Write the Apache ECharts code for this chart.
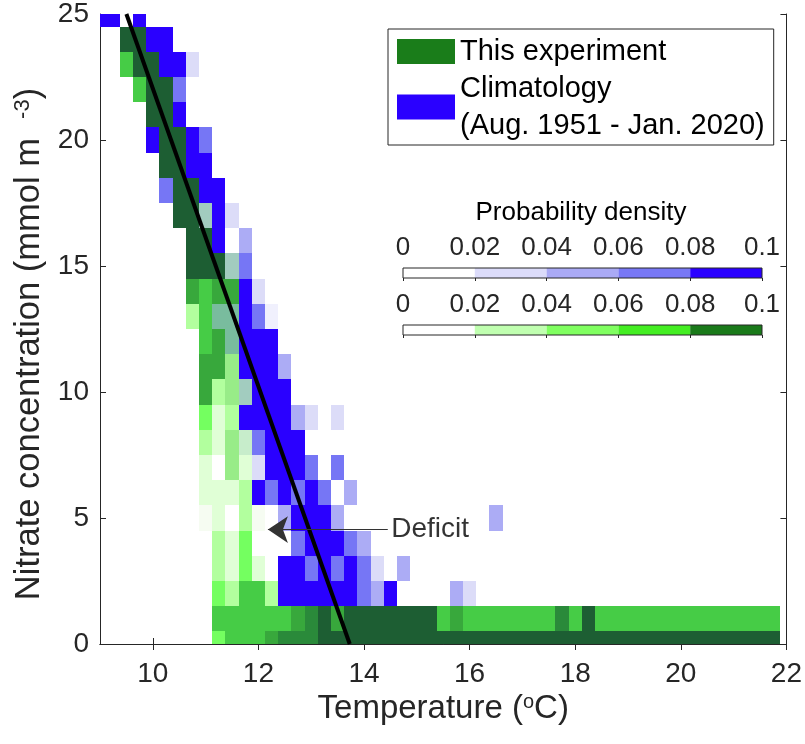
<!DOCTYPE html>
<html><head><meta charset="utf-8">
<script src="https://cdn.jsdelivr.net/npm/echarts@6/dist/echarts.min.js"></script>
<style>html,body{margin:0;padding:0;background:#fff}#c{width:805px;height:744px}</style>
</head><body><div id="c"></div>
<script>
const FONT = "'Liberation Sans', Arial, Helvetica, sans-serif";
const INK = '#262626';

// histogram bin size (temperature degC, nitrate mmol m-3)
const BIN_W = 0.25, BIN_H = 1;

// axis ticks
const xTicks = [10, 12, 14, 16, 18, 20, 22];
const yTicks = [0, 5, 10, 15, 20, 25];
const cbTicks = [0, 0.02, 0.04, 0.06, 0.08, 0.1];

// This experiment: [temperature, nitrate, probability density]
const greenCells = [
  [9.5,24,0.09],[9.75,24,0.09],
  [9.5,23,0.055],[9.75,23,0.09],[10,23,0.09],
  [9.75,22,0.055],[10,22,0.09],[10.25,22,0.09],
  [10,21,0.09],[10.25,21,0.09],
  [10.25,20,0.09],[10.5,20,0.09],
  [10.25,19,0.09],[10.5,19,0.09],
  [10.5,18,0.09],[10.75,18,0.09],
  [10.5,17,0.09],[10.75,17,0.09],[11,17,0.035],
  [10.75,16,0.09],[11,16,0.09],
  [10.75,15,0.09],[11,15,0.09],[11.25,15,0.09],[11.5,15,0.035],
  [10.75,14,0.065],[11,14,0.055],[11.25,14,0.065],[11.5,14,0.065],
  [10.75,13,0.025],[11,13,0.055],[11.25,13,0.055],[11.5,13,0.055],
  [11,12,0.055],[11.25,12,0.065],[11.5,12,0.055],
  [11,11,0.065],[11.25,11,0.065],[11.5,11,0.035],
  [11,10,0.065],[11.25,10,0.025],[11.5,10,0.035],[11.75,10,0.035],
  [11,9,0.045],[11.25,9,0.015],[11.5,9,0.025],
  [11,8,0.025],[11.25,8,0.015],[11.5,8,0.035],[11.75,8,0.025],
  [11,7,0.015],[11.5,7,0.035],[11.75,7,0.015],
  [11,6,0.015],[11.25,6,0.015],[11.5,6,0.015],[11.75,6,0.025],
  [11,5,0.005],[11.25,5,0.015],[11.75,5,0.025],[12,5,0.005],
  [11.25,4,0.025],[11.5,4,0.015],[11.75,4,0.045],
  [11.25,3,0.025],[11.5,3,0.015],[11.75,3,0.045],[12,3,0.015],
  [11.25,2,0.045],[11.5,2,0.025],[11.75,2,0.055],[12,2,0.055],[12.25,2,0.025],
  [11.25,1,0.055],[11.5,1,0.055],[11.75,1,0.055],[12,1,0.055],[12.25,1,0.055],[12.5,1,0.055],
  [12.75,1,0.065],[13,1,0.075],[13.25,1,0.09],[13.5,1,0.065],
  [13.75,1,0.09],[14,1,0.09],[14.25,1,0.09],[14.5,1,0.09],[14.75,1,0.09],[15,1,0.09],[15.25,1,0.09],
  [15.5,1,0.055],[15.75,1,0.065],
  [16,1,0.055],[16.25,1,0.055],[16.5,1,0.055],[16.75,1,0.055],[17,1,0.055],[17.25,1,0.055],[17.5,1,0.055],
  [17.75,1,0.075],[18,1,0.055],[18.25,1,0.09],
  [18.5,1,0.055],[18.75,1,0.055],[19,1,0.055],[19.25,1,0.055],[19.5,1,0.055],[19.75,1,0.055],[20,1,0.055],
  [20.25,1,0.055],[20.5,1,0.055],[20.75,1,0.055],[21,1,0.055],[21.25,1,0.055],[21.5,1,0.055],[21.75,1,0.055],
  [11.25,0,0.045],[11.5,0,0.055],[11.75,0,0.055],[12,0,0.055],[12.25,0,0.065],
  [12.5,0,0.075],[12.75,0,0.075],[13,0,0.075],
  [13.25,0,0.09],[13.5,0,0.09],[13.75,0,0.09],[14,0,0.09],[14.25,0,0.09],[14.5,0,0.09],[14.75,0,0.09],
  [15,0,0.09],[15.25,0,0.09],[15.5,0,0.09],[15.75,0,0.09],[16,0,0.09],[16.25,0,0.09],[16.5,0,0.09],
  [16.75,0,0.09],[17,0,0.09],[17.25,0,0.09],[17.5,0,0.09],[17.75,0,0.09],[18,0,0.09],[18.25,0,0.09],
  [18.5,0,0.09],[18.75,0,0.09],[19,0,0.09],[19.25,0,0.09],[19.5,0,0.09],[19.75,0,0.09],[20,0,0.09],
  [20.25,0,0.09],[20.5,0,0.09],[20.75,0,0.09],[21,0,0.09],[21.25,0,0.09],[21.5,0,0.09],[21.75,0,0.09]
];

// Climatology (Aug. 1951 - Jan. 2020): [temperature, nitrate, probability density]
const blueCells = [
  [9,25,0.09],[9.25,25,0.09],[9.75,25,0.09],
  [10,24,0.09],[10.25,24,0.09],
  [10.25,23,0.09],[10.5,23,0.09],[10.75,23,0.03],
  [10.5,22,0.07],
  [10.5,21,0.09],
  [10,20,0.09],[10.75,20,0.09],[11,20,0.07],
  [10.75,19,0.09],[11,19,0.09],
  [10.25,18,0.07],[11,18,0.09],[11.25,18,0.09],
  [11,17,0.05],[11.25,17,0.09],[11.5,17,0.03],
  [11.25,16,0.09],[11.75,16,0.05],
  [11.5,15,0.05],[11.75,15,0.07],
  [11.75,14,0.09],[12,14,0.03],
  [11.25,13,0.05],[11.5,13,0.05],[11.75,13,0.09],[12,13,0.07],[12.25,13,0.01],
  [11.5,12,0.05],[11.75,12,0.09],[12,12,0.09],[12.25,12,0.09],
  [11.75,11,0.09],[12,11,0.09],[12.25,11,0.09],[12.5,11,0.05],
  [11.75,10,0.05],[12,10,0.09],[12.25,10,0.09],[12.5,10,0.09],
  [11.75,9,0.09],[12,9,0.09],[12.25,9,0.09],[12.5,9,0.09],[12.75,9,0.05],[13,9,0.03],[13.5,9,0.03],
  [11.75,8,0.03],[12,8,0.07],[12.25,8,0.09],[12.5,8,0.09],[12.75,8,0.09],
  [12,7,0.03],[12.25,7,0.09],[12.5,7,0.09],[12.75,7,0.09],[13,7,0.07],[13.5,7,0.07],
  [12,6,0.09],[12.25,6,0.07],[12.5,6,0.09],[12.75,6,0.07],[13,6,0.09],[13.25,6,0.07],[13.75,6,0.05],
  [12.5,5,0.05],[12.75,5,0.09],[13,5,0.09],[13.25,5,0.09],[13.5,5,0.05],[16.5,5,0.05],
  [12.75,4,0.07],[13,4,0.09],[13.25,4,0.09],[13.5,4,0.09],[13.75,4,0.07],[14,4,0.05],
  [12.5,3,0.09],[12.75,3,0.09],[13,3,0.07],[13.25,3,0.09],[13.5,3,0.07],[13.75,3,0.09],[14,3,0.07],[14.25,3,0.03],[14.75,3,0.05],
  [12.5,2,0.09],[12.75,2,0.09],[13,2,0.09],[13.25,2,0.09],[13.5,2,0.09],[13.75,2,0.09],[14,2,0.07],[14.25,2,0.05],[14.5,2,0.09],[15.75,2,0.05],[16,2,0.03]
];

// fitted line (temperature, nitrate)
const fitT = [9.5, 13.73];
const fitN = [25, 0];

// annotation
const deficitFrom = [14.45, 4.54];
const deficitTo = [12.18, 4.54];
const deficitText = 'Deficit';

const seriesNames = ['This experiment', 'Climatology\n(Aug. 1951 - Jan. 2020)'];

// colour scales
const greenLevels = [[0.01,'#f6fcf2'],[0.02,'#e0ffd6'],[0.03,'#b2ff9e'],[0.04,'#98ec88'],[0.05,'#74ff60'],[0.06,'#46cc46'],[0.07,'#38a83c'],[0.08,'#2a8a3a'],[Infinity,'#1d5e33']];
const blueLevels = [[0.02,'#f0f0fd'],[0.04,'#dcdcf8'],[0.06,'#acacf5'],[0.08,'#7676f5'],[Infinity,'#2a00ff']];
const cbBlue = ['#ffffff','#dcdcfa','#aaaaf5','#7878f5','#2a00ff'];
const cbGreen = ['#ffffff','#c0ffb0','#80ff60','#44ee22','#1a7a1a'];

function levelColor(levels, v){ for (const [u,c] of levels) if (v < u) return c; return levels[levels.length-1][1]; }
const greenKeys = new Set(greenCells.map(d => d[0] + '|' + d[1]));

function cellRenderer(levels, overlayCheck){
  return function(params, api){
    const x = api.value(0), y = api.value(1), v = api.value(2);
    const p0 = api.coord([x - BIN_W/2, y + BIN_H/2]);
    const p1 = api.coord([x + BIN_W/2, y - BIN_H/2]);
    const cs = params.coordSys;
    let x0 = Math.max(Math.round(p0[0]), Math.round(cs.x));
    let x1 = Math.min(Math.round(p1[0]), Math.round(cs.x + cs.width));
    let y0 = Math.max(Math.round(p0[1]), Math.round(cs.y));
    let y1 = Math.min(Math.round(p1[1]), Math.round(cs.y + cs.height));
    if (x1 <= x0 || y1 <= y0) return null;
    const op = overlayCheck && greenKeys.has(x + '|' + y) ? 0.5 : 1;
    return {type:'rect', shape:{x:x0, y:y0, width:x1-x0, height:y1-y0}, style:{fill: levelColor(levels, v), opacity: op}};
  };
}

const cbData = cbTicks.slice(0, -1).map((t, i) => [t, cbTicks[i+1], i]);
function cbRenderer(colors){
  return function(params, api){
    const p0 = api.coord([api.value(0), 1]);
    const p1 = api.coord([api.value(1), 0]);
    return {type:'rect', shape:{x:p0[0], y:p0[1], width:p1[0]-p0[0], height:p1[1]-p0[1]}, style:{fill: colors[api.value(2)]}};
  };
}

const chart = echarts.init(document.getElementById('c'), null, {renderer:'canvas'});
const tickStyle = {show:true, inside:true, length:6, lineStyle:{color:INK, width:1}};
const lineStyleAx = {show:true, lineStyle:{color:INK, width:1}};
const labelBase = {color:INK, fontFamily:FONT};

const option = {
  animation:false,
  backgroundColor:'#fff',
  textStyle:{fontFamily:FONT},
  grid:[
    {left:100, right:18, top:14, bottom:100},
    {left:403, top:268, width:359, height:10, show:true, z:10, backgroundColor:'transparent', borderColor:INK, borderWidth:1},
    {left:403, top:325, width:359, height:10, show:true, z:10, backgroundColor:'transparent', borderColor:INK, borderWidth:1}
  ],
  xAxis:[
    {type:'value', gridIndex:0, min:9, max:22, position:'bottom',
     axisLine:lineStyleAx, splitLine:{show:false},
     axisTick:Object.assign({customValues:xTicks}, tickStyle),
     axisLabel:Object.assign({customValues:xTicks, fontSize:28, margin:16}, labelBase),
     name:'Temperature ({sup|o}C)', nameLocation:'middle', nameGap:41,
     nameTextStyle:{fontSize:33, color:INK, fontFamily:FONT, rich:{sup:{fontSize:20, verticalAlign:'top', color:INK, fontFamily:FONT}}}},
    {type:'value', gridIndex:0, min:9, max:22, position:'top',
     axisLine:lineStyleAx, splitLine:{show:false},
     axisTick:Object.assign({customValues:xTicks}, tickStyle), axisLabel:{show:false}},
    {type:'value', gridIndex:1, min:0, max:0.1, interval:0.02, position:'top',
     axisLine:{show:false}, splitLine:{show:false},
     axisTick:{show:true, inside:true, length:3, lineStyle:{color:INK}},
     axisLabel:Object.assign({fontSize:26, margin:7, showMinLabel:true, showMaxLabel:true, hideOverlap:false}, labelBase)},
    {type:'value', gridIndex:2, min:0, max:0.1, interval:0.02, position:'top',
     axisLine:{show:false}, splitLine:{show:false},
     axisTick:{show:true, inside:true, length:3, lineStyle:{color:INK}},
     axisLabel:Object.assign({fontSize:26, margin:7, showMinLabel:true, showMaxLabel:true, hideOverlap:false}, labelBase)}
  ],
  yAxis:[
    {type:'value', gridIndex:0, min:0, max:25, interval:5, position:'left',
     axisLine:lineStyleAx, splitLine:{show:false}, axisTick:tickStyle,
     axisLabel:Object.assign({fontSize:28, margin:11}, labelBase),
     name:'Nitrate concentration (mmol m  {sup|-3})', nameLocation:'middle', nameGap:46,
     nameTextStyle:{fontSize:34.5, color:INK, fontFamily:FONT, padding:[0, 30, 0, 0],
       rich:{sup:{fontSize:22, verticalAlign:'top', color:INK, fontFamily:FONT}}}},
    {type:'value', gridIndex:0, min:0, max:25, interval:5, position:'right',
     axisLine:lineStyleAx, splitLine:{show:false}, axisTick:tickStyle, axisLabel:{show:false}},
    {type:'value', gridIndex:1, min:0, max:1, show:false},
    {type:'value', gridIndex:2, min:0, max:1, show:false}
  ],
  legend:{
    left:388, top:29, orient:'vertical', align:'left', selectedMode:false,
    itemWidth:58, itemHeight:25, itemGap:0,
    padding:[4, 9, 1, 9],
    borderColor:INK, borderWidth:1, backgroundColor:'#fff',
    textStyle:{fontSize:29, color:'#000', fontFamily:FONT, lineHeight:37},
    data:[
      {name:seriesNames[0], icon:'rect', itemStyle:{color:'#1a7d1a'}},
      {name:seriesNames[1], icon:'rect', itemStyle:{color:'#2a00ff'}}
    ]
  },
  graphic:[
    {type:'text', x:581, y:213, z:100, style:{text:'Probability density', fontSize:26, fontFamily:FONT, fill:'#000', align:'center', verticalAlign:'middle'}}
  ],
  series:[
    {type:'custom', name:seriesNames[0], xAxisIndex:0, yAxisIndex:0, z:2,
     itemStyle:{color:'#1a7d1a'}, renderItem:cellRenderer(greenLevels, false),
     encode:{x:0, y:1}, data:greenCells},
    {type:'custom', name:seriesNames[1], xAxisIndex:0, yAxisIndex:0, z:3,
     itemStyle:{color:'#2a00ff'}, renderItem:cellRenderer(blueLevels, true),
     encode:{x:0, y:1}, data:blueCells},
    {type:'line', xAxisIndex:0, yAxisIndex:0, z:5, symbol:'none', silent:true,
     lineStyle:{color:'#000', width:4}, data:fitT.map((t,i)=>[t, fitN[i]])},
    {type:'lines', coordinateSystem:'cartesian2d', xAxisIndex:0, yAxisIndex:0, z:9, silent:true,
     symbol:['none','arrow'], symbolSize:[15,20],
     lineStyle:{color:'#333', width:1.2, opacity:1, curveness:0},
     data:[{coords:[deficitFrom, deficitTo]}]},
    {type:'scatter', xAxisIndex:0, yAxisIndex:0, z:9, symbol:'circle', symbolSize:1, silent:true,
     itemStyle:{color:'rgba(0,0,0,0)'},
     label:{show:true, position:'right', distance:3, formatter:deficitText, fontSize:28, color:'#000', fontFamily:FONT},
     data:[deficitFrom]},
    {type:'custom', xAxisIndex:2, yAxisIndex:2, renderItem:cbRenderer(cbBlue), encode:{x:[0,1]}, data:cbData},
    {type:'custom', xAxisIndex:3, yAxisIndex:3, renderItem:cbRenderer(cbGreen), encode:{x:[0,1]}, data:cbData}
  ]
};
chart.setOption(option);
</script></body></html>
